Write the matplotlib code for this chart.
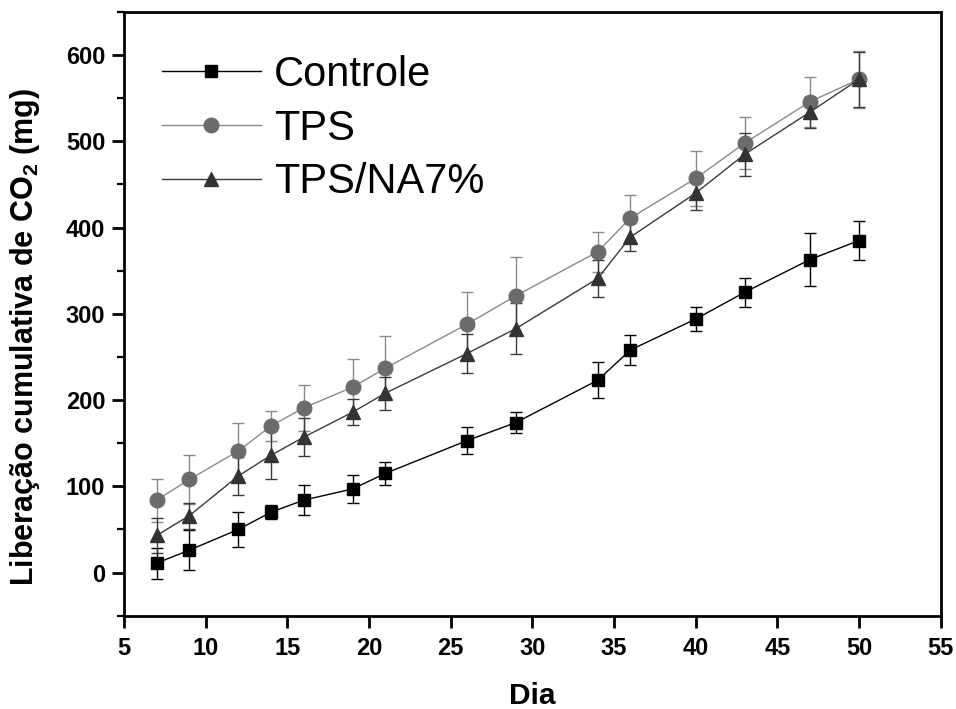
import numpy as np
import matplotlib
matplotlib.use("Agg")
import matplotlib.pyplot as plt
from matplotlib.ticker import MultipleLocator

plt.rcParams["font.family"] = ["Liberation Sans", "DejaVu Sans"]
plt.rcParams["mathtext.fontset"] = "custom"
plt.rcParams["mathtext.rm"] = "Liberation Sans:bold"
plt.rcParams["mathtext.bf"] = "Liberation Sans:bold"

dias = [7, 9, 12, 14, 16, 19, 21, 26, 29, 34, 36, 40, 43, 47, 50]

controle = [11, 26, 50, 70, 84, 97, 115, 153, 174, 223, 258, 294, 325, 363, 385]
controle_err = [18, 23, 20, 8, 17, 16, 13, 16, 12, 21, 17, 14, 17, 31, 23]

tps = [84, 108, 141, 170, 191, 215, 237, 288, 321, 372, 411, 457, 498, 546, 572]
tps_err = [25, 28, 33, 17, 27, 33, 37, 37, 45, 23, 27, 32, 30, 29, 33]

tps_na = [43, 66, 112, 136, 157, 186, 208, 254, 283, 341, 389, 440, 485, 534, 572]
tps_na_err = [20, 15, 22, 28, 22, 15, 19, 23, 30, 21, 16, 20, 25, 18, 32]

fig = plt.figure(figsize=(9.56, 7.09), dpi=100)
ax = fig.add_axes([0.1297, 0.1316, 0.8543, 0.8515])

series = [
    (controle, controle_err, "Controle", "s", "#000000", "#000000", 8.5),
    (tps, tps_err, "TPS", "o", "#8a8a8a", "#6b6b6b", 10.5),
    (tps_na, tps_na_err, "TPS/NA7%", "^", "#3a3a3a", "#333333", 10.5),
]

handles = []
for vals, err, label, mk, lc, mc, ms in series:
    c = ax.errorbar(dias, vals, yerr=err, color=lc, lw=1.0, marker=mk,
                    markersize=ms, markerfacecolor=mc, markeredgecolor=mc,
                    ecolor=lc, elinewidth=1.0, capsize=4.3, capthick=1.0,
                    label=label)
    handles.append(c.lines[0])

ax.set_xlim(5, 55)
ax.set_ylim(-50, 650)
ax.xaxis.set_major_locator(MultipleLocator(5))
ax.yaxis.set_major_locator(MultipleLocator(100))
ax.yaxis.set_minor_locator(MultipleLocator(50))

for s in ax.spines.values():
    s.set_linewidth(2.0)

ax.tick_params(axis="both", which="major", direction="out", length=8.5,
               width=2.0, labelsize=17, top=False, right=False)
ax.tick_params(axis="x", which="major", pad=7)
ax.tick_params(axis="y", which="major", pad=5)
ax.tick_params(axis="y", which="minor", direction="out", length=5, width=1.6)
for lab in ax.get_xticklabels() + ax.get_yticklabels():
    lab.set_fontweight("bold")

ax.set_xlabel("Dia", fontsize=21.5, fontweight="bold", labelpad=16)
ax.set_ylabel(r"Liberação cumulativa de CO$_\mathbf{2}$ (mg)", fontsize=22,
              fontweight="bold")
ax.yaxis.set_label_coords(-0.1, 0.462)

leg = ax.legend(handles, [s[2] for s in series], loc="upper left",
                bbox_to_anchor=(0.0465, 0.929), frameon=False,
                fontsize=30, handlelength=2.37, handletextpad=0.31,
                labelspacing=0.33, borderaxespad=0.0, borderpad=0.0)

fig.savefig("out.png", dpi=100)
